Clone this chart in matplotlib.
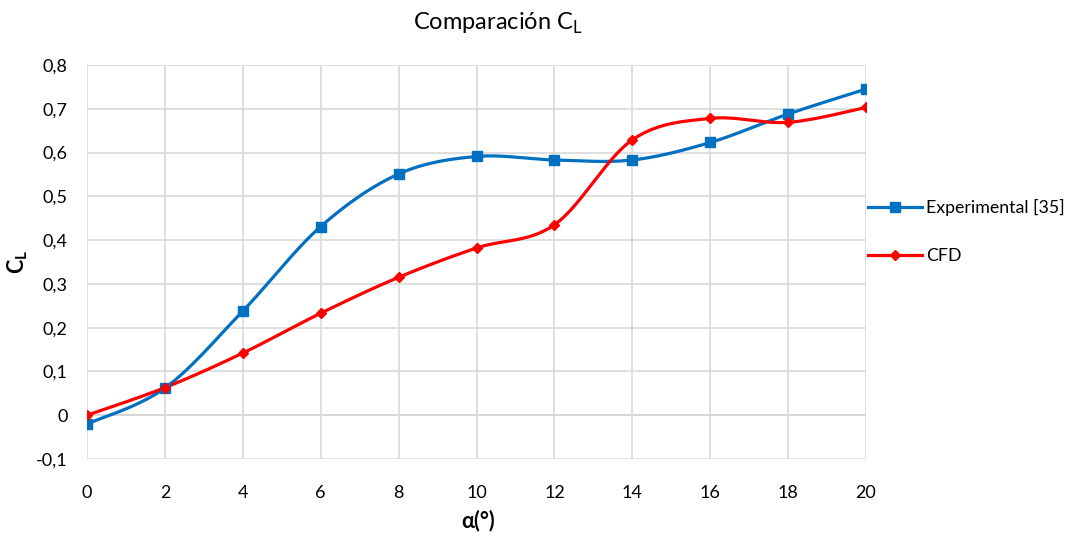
import numpy as np
import matplotlib
matplotlib.use("Agg")
import matplotlib.pyplot as plt
from matplotlib.ticker import FuncFormatter

# Lift coefficient vs angle of attack
alpha = [0, 2, 4, 6, 8, 10, 12, 14, 16, 18, 20]
cl_experimental = [-0.02, 0.062, 0.238, 0.431, 0.551, 0.591, 0.583, 0.583, 0.623, 0.688, 0.745]
cl_cfd = [0.0, 0.063, 0.142, 0.233, 0.315, 0.382, 0.435, 0.629, 0.678, 0.669, 0.703]

series_names = ["Experimental [35]", "CFD"]
x_ticks = [0, 2, 4, 6, 8, 10, 12, 14, 16, 18, 20]
y_ticks = [-0.1, 0.0, 0.1, 0.2, 0.3, 0.4, 0.5, 0.6, 0.7, 0.8]


def smooth_curve(xs, ys, n=40):
    """Catmull-Rom style cubic Bezier through every point (spreadsheet smoothing)."""
    p = np.column_stack([xs, ys]).astype(float)
    pts = [p[0]]
    for i in range(len(p) - 1):
        p0 = p[i - 1] if i > 0 else p[i]
        p1, p2 = p[i], p[i + 1]
        p3 = p[i + 2] if i + 2 < len(p) else p[i + 1]
        c1 = p1 + (p2 - p0) / 6.0
        c2 = p2 - (p3 - p1) / 6.0
        t = np.linspace(0, 1, n)[1:, None]
        seg = ((1 - t) ** 3) * p1 + 3 * ((1 - t) ** 2) * t * c1 \
            + 3 * (1 - t) * t ** 2 * c2 + t ** 3 * p2
        pts.extend(seg)
    pts = np.array(pts)
    return pts[:, 0], pts[:, 1]


plt.rcParams['font.family'] = ['Lato', 'DejaVu Sans']
plt.rcParams['mathtext.fontset'] = 'custom'
plt.rcParams['mathtext.rm'] = 'Lato'
plt.rcParams['mathtext.bf'] = 'Lato:bold'

fig = plt.figure(figsize=(10.65, 5.36), dpi=100)
ax = fig.add_axes([87 / 1065, 1 - 459 / 536, (866 - 87) / 1065, (459 - 65) / 536])

blue = "#0070C0"
red = "#FF0000"

for ys, color, marker, ms, name in [
    (cl_experimental, blue, "s", 7, series_names[0]),
    (cl_cfd, red, "D", 5.5, series_names[1]),
]:
    sx, sy = smooth_curve(alpha, ys)
    ax.plot(sx, sy, color=color, lw=2.3, solid_capstyle="round", zorder=3)
    ax.plot(alpha, ys, linestyle="none", marker=marker, ms=ms, color=color,
            markeredgecolor=color, zorder=4)
    # legend proxy
    ax.plot([], [], color=color, lw=2.3, marker=marker, ms=ms, label=name)

ax.set_xlim(0, 20)
ax.set_ylim(-0.1, 0.8)
ax.set_xticks(x_ticks)
ax.set_yticks(y_ticks)


def comma_fmt(v, pos):
    if abs(v) < 1e-9:
        return "0"
    return f"{v:.1f}".replace(".", ",")


ax.yaxis.set_major_formatter(FuncFormatter(comma_fmt))
ax.grid(True, color="#d9d9d9", lw=1.2, zorder=0)
ax.axhline(0, color="#bfbfbf", lw=1.2, zorder=1)
for s in ax.spines.values():
    s.set_visible(False)
ax.tick_params(length=0, labelsize=13, colors="#000000")
ax.tick_params(axis="x", pad=19)
ax.tick_params(axis="y", pad=14)

fig.text(498 / 1065, 1 - 23 / 536, r"Comparación C$_\mathregular{L}$", ha="center",
         va="center", fontsize=17)
fig.text(478 / 1065, 1 - 521 / 536, "α(°)", ha="center", va="center",
         fontsize=15.5, fontweight="bold")
fig.text(18 / 1065, 1 - 262 / 536, r"$\mathbf{C_L}$", ha="center", va="center",
         fontsize=15.5, rotation=90)

leg = ax.legend(loc="center left", bbox_to_anchor=(1.003, 0.577), frameon=False,
                fontsize=12.8, handlelength=3.0, labelspacing=1.8,
                handletextpad=0.25, borderaxespad=0.0, borderpad=0.0)

fig.savefig("out.png", dpi=100, facecolor="white")
